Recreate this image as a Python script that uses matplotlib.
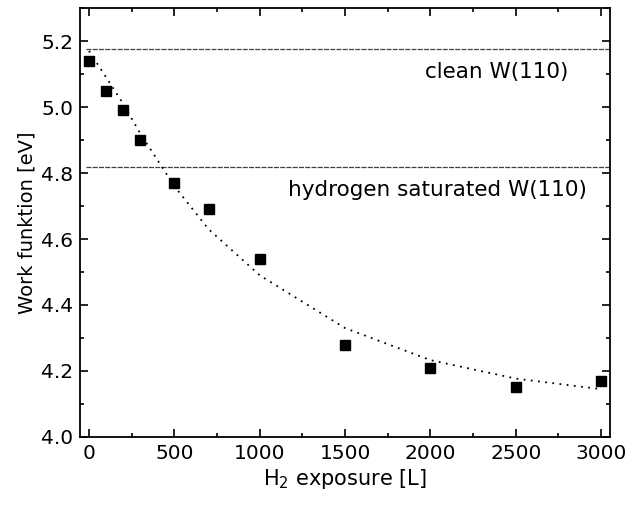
import matplotlib
matplotlib.use("Agg")
import matplotlib.pyplot as plt
from matplotlib.ticker import MultipleLocator

plt.rcParams['font.family'] = ['DejaVu Sans']
plt.rcParams['mathtext.fontset'] = 'dejavusans'

# measured work function
exposure = [0, 100, 200, 300, 500, 700, 1000, 1500, 2000, 2500, 3000]
work_func = [5.14, 5.05, 4.99, 4.90, 4.77, 4.69, 4.54, 4.28, 4.21, 4.15, 4.17]

# dotted guide curve
fit_x = [0, 100, 200, 300, 500, 700, 1000, 1500, 2000, 2500, 3000]
fit_y = [5.17, 5.09, 5.01, 4.92, 4.76, 4.63, 4.49, 4.33, 4.233, 4.177, 4.145]

# reference levels
clean_level = 5.176
h_sat_level = 4.818

fig = plt.figure(figsize=(6.38, 5.08), dpi=100)
ax = fig.add_axes([0.1254, 0.1398, 0.8306, 0.8444])

ax.hlines([clean_level, h_sat_level], -20, 3050, colors='0.25',
          linewidth=0.9, linestyles=(0, (4, 1)))
ax.plot(fit_x, fit_y, color='black', linestyle=(0, (1, 3)), linewidth=1.3)
ax.plot(exposure, work_func, linestyle='', marker='s', color='black', markersize=7)

ax.text(2806, 5.106, 'clean W(110)', ha='right', va='center', fontsize=15.5)
ax.text(2917, 4.748, 'hydrogen saturated W(110)', ha='right', va='center', fontsize=15.5)

ax.set_xlim(-53, 3052)
ax.set_ylim(4.0, 5.3)
ax.xaxis.set_major_locator(MultipleLocator(500))
ax.xaxis.set_minor_locator(MultipleLocator(250))
ax.yaxis.set_major_locator(MultipleLocator(0.2))
ax.yaxis.set_minor_locator(MultipleLocator(0.1))
ax.tick_params(which='both', direction='in', top=True, right=True, labelsize=14.5, width=1.2)
ax.tick_params(which='major', length=6, pad=5)
ax.tick_params(which='minor', length=3)
for s in ax.spines.values():
    s.set_linewidth(1.3)

ax.set_xlabel('H$_2$ exposure [L]', fontsize=15, labelpad=3)
ax.set_ylabel('Work funktion [eV]', fontsize=14, labelpad=3)

fig.savefig('out.png', dpi=100)
